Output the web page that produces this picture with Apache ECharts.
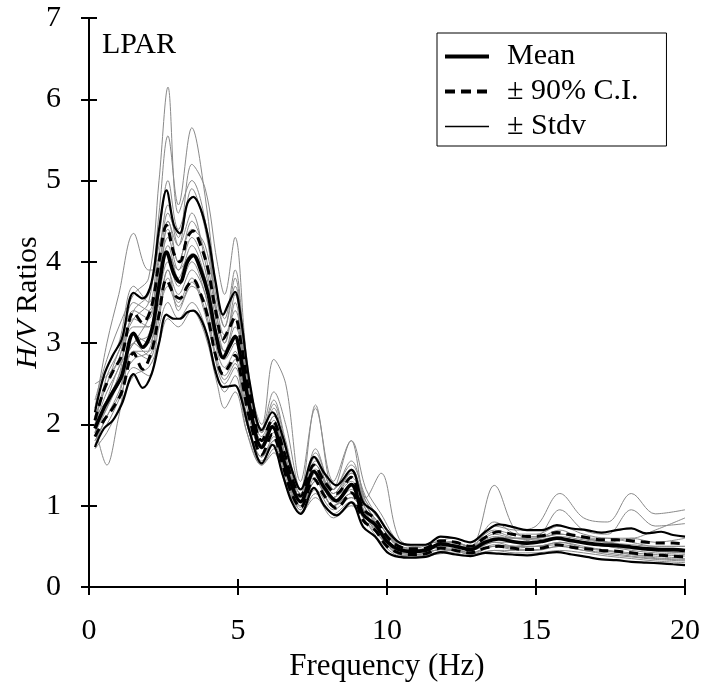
<!DOCTYPE html>
<html>
<head>
<meta charset="utf-8">
<script src="https://cdn.jsdelivr.net/npm/echarts@6/dist/echarts.min.js"></script>
<style>
html,body{margin:0;padding:0;background:#fff;}
#chart{width:703px;height:691px;}
</style>
</head>
<body>
<div id="chart"></div>
<script>
// ---- black statistic curves (common frequency grid, Hz) ----
var freq = [0.2, 0.5, 0.8, 1.1, 1.5, 1.8, 2.1, 2.35, 2.6, 2.85, 3.05, 3.3, 3.5, 3.75, 4.0, 4.25, 4.5, 4.7, 4.9, 5.1, 5.4, 5.8, 6.15, 6.5, 6.8, 7.1, 7.55, 7.9, 8.3, 8.8, 9.2, 9.6, 10.0, 10.4, 10.8, 11.3, 11.8, 12.3, 12.8, 13.3, 13.75, 14.2, 14.7, 15.2, 15.7, 16.2, 16.7, 17.2, 17.7, 18.2, 18.7, 19.2, 19.6, 20.0];
var stdvUpper = [2.15, 2.6, 2.85, 3.05, 3.62, 3.55, 3.75, 4.4, 4.88, 4.45, 4.35, 4.72, 4.8, 4.65, 4.3, 3.75, 3.35, 3.5, 3.63, 3.3, 2.5, 1.93, 2.15, 1.85, 1.45, 1.2, 1.6, 1.4, 1.25, 1.44, 1.04, 0.92, 0.7, 0.55, 0.52, 0.52, 0.62, 0.6, 0.55, 0.68, 0.77, 0.74, 0.7, 0.7, 0.76, 0.72, 0.7, 0.67, 0.7, 0.72, 0.66, 0.68, 0.64, 0.62];
var ciUpper   = [2.05, 2.42, 2.65, 2.85, 3.38, 3.25, 3.45, 4.0, 4.45, 4.1, 4.0, 4.3, 4.38, 4.2, 3.9, 3.4, 3.05, 3.18, 3.32, 3.0, 2.35, 1.8, 2.05, 1.72, 1.35, 1.12, 1.5, 1.3, 1.15, 1.35, 0.96, 0.84, 0.62, 0.5, 0.47, 0.48, 0.57, 0.55, 0.5, 0.61, 0.68, 0.65, 0.62, 0.63, 0.67, 0.64, 0.61, 0.58, 0.58, 0.57, 0.55, 0.54, 0.54, 0.53];
var meanHV    = [1.95, 2.2, 2.4, 2.6, 3.12, 2.95, 3.15, 3.7, 4.12, 3.85, 3.75, 4.0, 4.08, 3.9, 3.6, 3.12, 2.82, 2.95, 3.08, 2.8, 2.2, 1.72, 1.97, 1.6, 1.25, 1.05, 1.42, 1.22, 1.06, 1.26, 0.89, 0.77, 0.56, 0.46, 0.44, 0.45, 0.53, 0.5, 0.46, 0.55, 0.59, 0.56, 0.54, 0.56, 0.6, 0.57, 0.54, 0.52, 0.51, 0.49, 0.47, 0.46, 0.46, 0.45];
var ciLower   = [1.85, 2.05, 2.2, 2.4, 2.88, 2.68, 2.9, 3.35, 3.78, 3.6, 3.55, 3.7, 3.78, 3.6, 3.3, 2.85, 2.62, 2.72, 2.85, 2.6, 2.05, 1.63, 1.88, 1.5, 1.15, 0.98, 1.33, 1.12, 0.97, 1.16, 0.82, 0.7, 0.5, 0.42, 0.4, 0.41, 0.48, 0.45, 0.42, 0.48, 0.5, 0.48, 0.46, 0.48, 0.52, 0.49, 0.47, 0.45, 0.44, 0.42, 0.4, 0.39, 0.38, 0.37];
var stdvLower = [1.72, 1.95, 2.05, 2.25, 2.62, 2.45, 2.62, 3.0, 3.35, 3.3, 3.3, 3.38, 3.4, 3.3, 3.05, 2.65, 2.46, 2.47, 2.48, 2.33, 1.9, 1.52, 1.75, 1.38, 1.05, 0.9, 1.22, 1.0, 0.88, 1.04, 0.74, 0.62, 0.43, 0.37, 0.36, 0.37, 0.43, 0.4, 0.38, 0.42, 0.41, 0.4, 0.39, 0.41, 0.43, 0.4, 0.37, 0.34, 0.33, 0.31, 0.3, 0.29, 0.28, 0.27];

// ---- individual grey H/V curves (coarser grid, Hz) ----
var gFreq = [0.2, 0.6, 1.0, 1.5, 2.0, 2.35, 2.65, 3.0, 3.45, 3.9, 4.3, 4.55, 4.9, 5.3, 5.8, 6.2, 6.6, 7.1, 7.6, 8.2, 8.8, 9.3, 9.8, 10.4, 11.0, 11.6, 12.2, 12.8, 13.6, 14.3, 15.0, 15.8, 16.6, 17.4, 18.2, 19.0, 20.0];
var g1  = [2.3, 2.8, 3.2, 3.6, 3.8, 5.0, 6.15, 4.6, 5.0, 4.5, 3.3, 3.0, 3.5, 2.4, 1.8, 2.1, 1.7, 1.1, 1.5, 1.1, 1.4, 1.0, 0.75, 0.5, 0.45, 0.5, 0.55, 0.5, 0.65, 0.6, 0.6, 0.7, 0.6, 0.6, 0.55, 0.5, 0.5];
var g2  = [2.1, 2.5, 2.9, 3.3, 3.5, 4.6, 5.55, 4.7, 5.65, 4.8, 3.6, 3.2, 3.8, 2.6, 1.9, 2.2, 1.6, 1.1, 1.7, 1.2, 1.5, 1.1, 0.8, 0.5, 0.45, 0.5, 0.5, 0.45, 0.6, 0.55, 0.6, 0.65, 0.6, 0.55, 0.5, 0.45, 0.45];
var g3  = [2.2, 3.0, 3.6, 4.35, 3.9, 3.9, 4.5, 4.2, 4.6, 4.0, 3.2, 2.9, 3.3, 2.4, 1.7, 2.0, 1.5, 1.0, 1.3, 1.0, 1.2, 0.9, 0.65, 0.45, 0.4, 0.45, 0.5, 0.45, 0.55, 0.5, 0.55, 0.6, 0.55, 0.5, 0.45, 0.42, 0.4];
var g4  = [1.9, 2.2, 2.6, 3.0, 3.1, 3.8, 4.6, 4.3, 5.2, 4.9, 4.0, 3.6, 4.3, 2.8, 1.9, 2.3, 1.8, 1.2, 1.6, 1.1, 1.3, 1.0, 0.7, 0.45, 0.42, 0.5, 0.5, 0.45, 0.6, 0.55, 0.55, 0.6, 0.55, 0.5, 0.5, 0.45, 0.42];
var g5  = [1.7, 1.9, 2.2, 2.6, 2.7, 3.0, 3.3, 3.2, 3.4, 3.1, 2.5, 2.2, 2.4, 1.9, 1.5, 1.7, 1.3, 0.9, 1.1, 0.85, 1.0, 0.8, 0.6, 0.4, 0.38, 0.4, 0.45, 0.4, 0.45, 0.45, 0.45, 0.5, 0.45, 0.42, 0.38, 0.35, 0.33];
var g6  = [2.0, 1.5, 2.1, 2.9, 2.8, 3.3, 3.9, 3.6, 3.9, 3.6, 2.9, 2.7, 2.9, 2.1, 1.6, 1.8, 1.4, 0.95, 1.3, 1.0, 1.15, 0.9, 0.65, 0.42, 0.4, 0.45, 0.48, 0.42, 0.5, 0.5, 0.5, 0.55, 0.5, 0.45, 0.42, 0.4, 0.38];
var g7  = [2.0, 2.4, 2.7, 3.2, 3.2, 3.9, 4.3, 3.9, 4.3, 3.9, 3.1, 2.9, 3.2, 2.6, 2.0, 2.8, 2.5, 1.3, 2.2, 1.3, 1.8, 1.2, 0.9, 0.55, 0.5, 0.55, 0.55, 0.5, 0.6, 0.6, 0.6, 0.65, 0.6, 0.55, 0.5, 0.48, 0.45];
var g8  = [1.9, 2.3, 2.5, 3.1, 3.0, 3.6, 4.0, 3.7, 4.0, 3.6, 3.0, 2.8, 3.0, 2.2, 1.7, 1.9, 1.5, 1.0, 1.4, 1.1, 1.25, 0.95, 0.7, 0.45, 0.45, 0.5, 0.5, 0.5, 1.25, 0.7, 0.55, 0.6, 0.55, 0.5, 0.5, 0.45, 0.45];
var g9  = [2.1, 2.3, 2.6, 3.3, 3.2, 3.8, 4.2, 3.8, 4.2, 3.8, 3.1, 2.9, 3.1, 2.3, 1.75, 2.0, 1.55, 1.1, 1.5, 1.1, 1.35, 1.0, 0.75, 0.5, 0.48, 0.55, 0.55, 0.5, 0.75, 0.7, 0.75, 1.15, 0.85, 0.8, 1.15, 0.9, 0.95];
var g10 = [1.8, 2.1, 2.4, 2.9, 2.9, 3.4, 3.8, 3.5, 3.8, 3.4, 2.8, 2.6, 2.8, 2.0, 1.6, 1.8, 1.4, 0.95, 1.3, 1.0, 1.1, 0.85, 0.6, 0.4, 0.38, 0.42, 0.45, 0.4, 0.5, 0.48, 0.5, 0.52, 0.48, 0.45, 0.4, 0.38, 0.35];
var g11 = [2.0, 2.6, 2.9, 3.4, 3.3, 4.0, 4.4, 4.0, 4.5, 4.1, 3.3, 3.0, 3.6, 2.5, 1.85, 2.1, 1.7, 1.15, 1.55, 1.15, 1.4, 1.05, 0.8, 0.5, 0.45, 0.5, 0.55, 0.5, 0.62, 0.6, 0.6, 0.65, 0.6, 0.55, 0.52, 0.5, 0.5];
var g12 = [1.8, 2.0, 2.3, 2.7, 2.6, 3.2, 3.5, 3.3, 3.5, 3.2, 2.6, 2.4, 2.6, 1.9, 1.5, 1.65, 1.25, 0.9, 1.15, 0.9, 1.05, 0.8, 0.55, 0.38, 0.36, 0.4, 0.42, 0.38, 0.45, 0.42, 0.42, 0.45, 0.42, 0.38, 0.35, 0.32, 0.3];
var g13 = [2.5, 2.6, 2.8, 3.5, 3.4, 4.1, 4.7, 4.2, 4.9, 4.4, 3.5, 3.2, 3.7, 2.7, 1.95, 2.4, 2.0, 1.2, 2.24, 1.2, 1.8, 1.1, 1.4, 0.6, 0.5, 0.55, 0.6, 0.55, 0.7, 0.65, 0.65, 0.75, 0.65, 0.6, 0.6, 0.7, 0.85];
var g14 = [1.9, 2.3, 2.7, 3.0, 3.3, 3.7, 4.1, 3.9, 4.1, 3.8, 3.1, 2.9, 3.1, 2.3, 1.75, 2.0, 1.55, 1.05, 1.4, 1.05, 1.25, 0.95, 0.7, 0.45, 0.43, 0.48, 0.5, 0.45, 0.55, 0.55, 0.55, 0.6, 0.55, 0.5, 0.47, 0.44, 0.42];
var g15 = [2.05, 2.5, 2.8, 3.4, 3.6, 4.2, 4.5, 4.0, 4.4, 4.2, 3.4, 3.1, 3.4, 2.5, 1.8, 2.05, 1.6, 1.1, 1.45, 1.15, 1.45, 1.0, 0.75, 0.48, 0.42, 0.48, 0.52, 0.48, 0.68, 0.6, 0.58, 0.62, 0.58, 0.55, 0.6, 0.55, 0.6];
var g16 = [1.95, 2.2, 2.5, 2.8, 2.9, 3.5, 3.9, 3.4, 3.7, 3.5, 2.7, 2.5, 2.7, 2.0, 1.55, 1.75, 1.35, 0.92, 1.2, 0.95, 1.1, 0.85, 0.6, 0.4, 0.37, 0.42, 0.46, 0.42, 0.5, 0.46, 0.46, 0.5, 0.45, 0.4, 0.37, 0.34, 0.32];
var g17 = [2.2, 2.7, 3.0, 3.7, 3.5, 4.3, 5.0, 4.4, 4.8, 4.5, 3.6, 3.3, 3.9, 2.7, 1.9, 2.25, 1.75, 1.15, 1.65, 1.2, 1.55, 1.05, 0.8, 0.52, 0.46, 0.52, 0.56, 0.5, 0.8, 0.65, 0.62, 0.95, 0.7, 0.65, 0.95, 0.75, 0.78];
var g18 = [1.75, 2.1, 2.35, 3.0, 2.85, 3.4, 3.7, 3.45, 3.75, 3.35, 2.75, 2.55, 2.75, 2.0, 1.6, 1.85, 1.45, 0.98, 1.35, 1.0, 1.15, 0.88, 0.62, 0.42, 0.4, 0.45, 0.46, 0.42, 0.52, 0.5, 0.5, 0.55, 0.48, 0.44, 0.4, 0.36, 0.34];
var greyCurves = [g1, g2, g3, g4, g5, g6, g7, g8, g9, g10, g11, g12, g13, g14, g15, g16, g17, g18];

// ---- axis ticks / labels ----
var xTicks = [0, 5, 10, 15, 20];
var yTicks = [0, 1, 2, 3, 4, 5, 6, 7];
var legendNames = ['Mean', '\u00b1 90% C.I.', '\u00b1 Stdv'];

var FONT = '"Liberation Serif", "Times New Roman", serif';

function pairs(xs, ys) { return xs.map(function (x, i) { return [x, ys[i]]; }); }

var series = [];
greyCurves.forEach(function (g, i) {
  series.push({
    name: 'station' + (i + 1), type: 'line', data: pairs(gFreq, g),
    smooth: 0.35, symbol: 'none', silent: true,
    lineStyle: { color: '#8a8a8a', width: 1 }, z: 1
  });
});
function blackLine(name, ys, width, dashed) {
  return {
    name: name, type: 'line', data: pairs(freq, ys), smooth: 0.35,
    symbol: 'none', silent: true, z: 5,
    itemStyle: { color: '#000' },
    lineStyle: { color: '#000', width: width, type: dashed ? [9, 6] : 'solid' }
  };
}
series.push(blackLine(legendNames[2], stdvUpper, 2.2, false));
series.push(blackLine(legendNames[2], stdvLower, 2.2, false));
series.push(blackLine(legendNames[1], ciUpper, 3, true));
series.push(blackLine(legendNames[1], ciLower, 3, true));
series.push(blackLine(legendNames[0], meanHV, 3.6, false));

var axisCommon = {
  type: 'value',
  axisLine: { show: true, lineStyle: { color: '#000', width: 2 } },
  axisTick: { show: true, inside: true, length: 8, lineStyle: { color: '#000', width: 2 } },
  splitLine: { show: false }
};

var option = {
  animation: false,
  backgroundColor: '#fff',
  textStyle: { fontFamily: FONT },
  title: {
    text: 'LPAR', left: 97, top: 25,
    textStyle: { fontFamily: FONT, fontSize: 30, fontWeight: 'normal', color: '#000' }
  },
  legend: {
    data: [
      { name: legendNames[0], lineStyle: { width: 4, type: 'solid', color: '#000' } },
      { name: legendNames[1], lineStyle: { width: 4, type: [10, 6], color: '#000' } },
      { name: legendNames[2], lineStyle: { width: 1.5, type: 'solid', color: '#000' } }
    ],
    orient: 'vertical', left: 437, top: 33,
    padding: [6, 28, 2, 6], itemGap: 0, itemWidth: 44, itemHeight: 14,
    borderColor: '#000', borderWidth: 1, backgroundColor: '#fff',
    selectedMode: false,
    itemStyle: { opacity: 0 },
    textStyle: { fontFamily: FONT, fontSize: 30, color: '#000', lineHeight: 35, padding: [0, 0, 0, 13] }
  },
  grid: { left: 89, right: 16, top: 18, bottom: 104, containLabel: false },
  xAxis: [
    Object.assign({}, axisCommon, {
      min: xTicks[0], max: xTicks[xTicks.length - 1], interval: 5, position: 'bottom',
      axisLabel: { color: '#000', fontFamily: FONT, fontSize: 30, margin: 29 },
      name: 'Frequency (Hz)', nameLocation: 'middle', nameGap: 63,
      nameTextStyle: { color: '#000', fontFamily: FONT, fontSize: 31 }
    }),
    Object.assign({}, axisCommon, {
      min: xTicks[0], max: xTicks[xTicks.length - 1], interval: 5, position: 'top',
      axisLabel: { show: false }
    })
  ],
  yAxis: [
    Object.assign({}, axisCommon, {
      min: yTicks[0], max: yTicks[yTicks.length - 1], interval: 1, position: 'left',
      axisLabel: { color: '#000', fontFamily: FONT, fontSize: 30, margin: 28 },
      name: '{i|H/V} Ratios', nameLocation: 'middle', nameGap: 46, nameMoveOverlap: false,
      nameTextStyle: {
        color: '#000', fontFamily: FONT, fontSize: 30,
        rich: { i: { fontStyle: 'italic', fontFamily: FONT, fontSize: 30, color: '#000' } }
      }
    }),
    Object.assign({}, axisCommon, {
      min: yTicks[0], max: yTicks[yTicks.length - 1], interval: 1, position: 'right',
      axisLabel: { show: false }
    })
  ],
  series: series
};

var chart = echarts.init(document.getElementById('chart'), null, { renderer: 'canvas' });
chart.setOption(option);
</script>
</body>
</html>
